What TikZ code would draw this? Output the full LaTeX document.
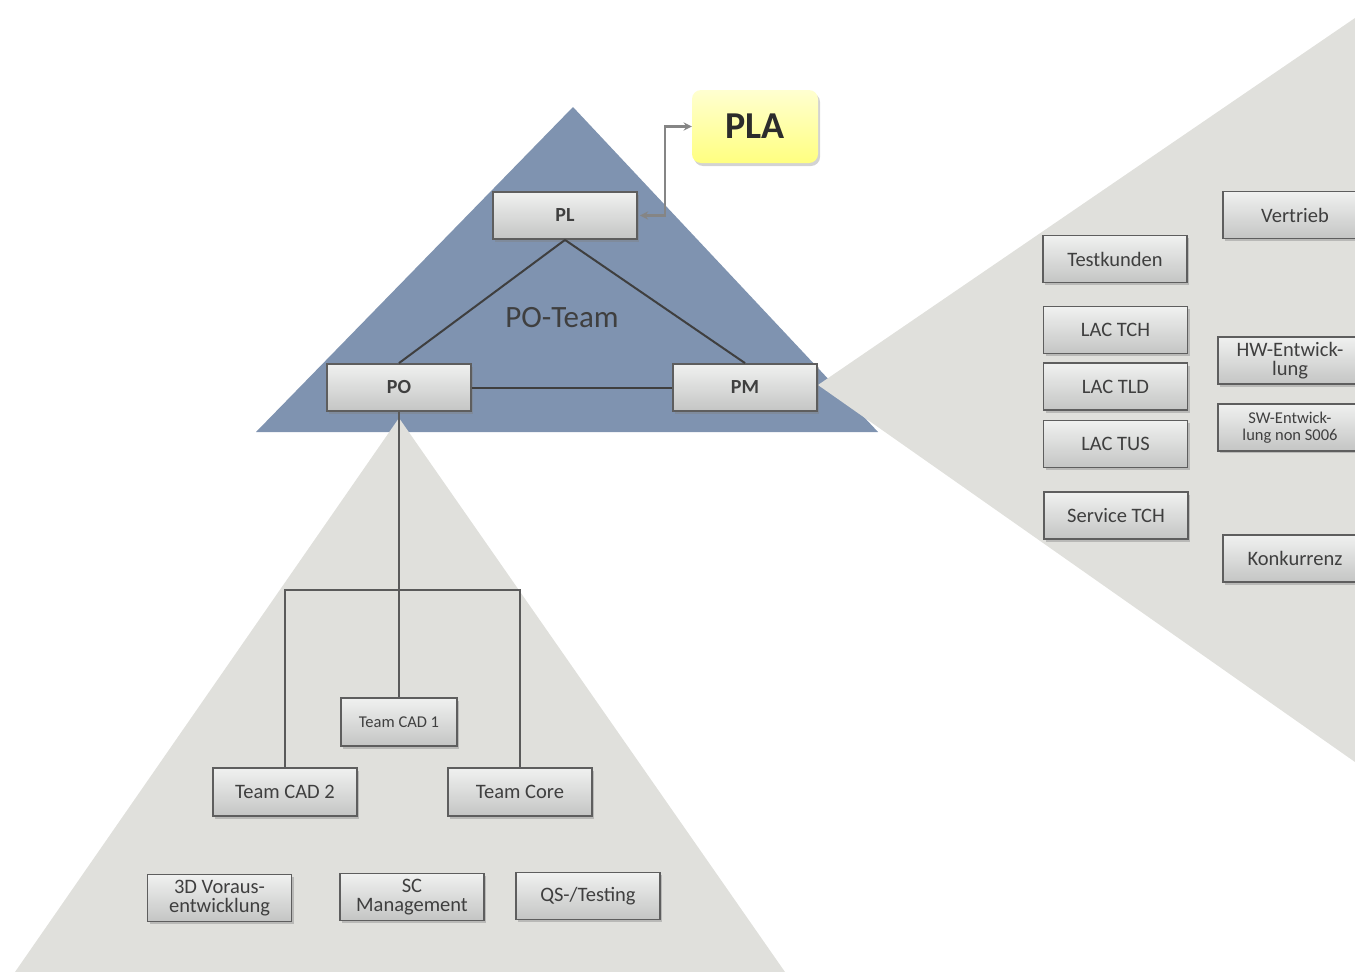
\documentclass[tikz,border=0pt]{standalone}
\usepackage{fontspec}
\setmainfont{Carlito}
\usepackage{tikz}
\usetikzlibrary{arrows,positioning,shadows}
\definecolor{ink}{HTML}{3F3F3F}
\definecolor{edge}{HTML}{5E5E5E}
\definecolor{boxT}{HTML}{F0F1F0}
\definecolor{boxB}{HTML}{C4C5C4}
\definecolor{plaT}{HTML}{FFFFD0}
\definecolor{plaB}{HTML}{FFFF80}
\definecolor{blu}{HTML}{7F93B0}
\definecolor{gryL}{HTML}{E0E0DC}
\definecolor{arr}{HTML}{858585}
\definecolor{wire}{HTML}{5A5A5A}
\tikzset{
  unit/.style  ={draw=edge, line width=1.8pt, top color=boxT, bottom color=boxB,
                 text=ink, align=center, inner sep=0pt, minimum width=144pt,
                 minimum height=47pt, font=\fontsize{20.5}{19}\selectfont,
                 drop shadow={shadow xshift=2pt, shadow yshift=-2.5pt, opacity=.4}},
  lead/.style  ={unit, font=\fontsize{20}{20}\selectfont\bfseries},
  small/.style ={unit, font=\fontsize{16.5}{17}\selectfont},
  board/.style ={rounded corners=9pt, top color=plaT, bottom color=plaB,
                 text=ink!70!black, minimum width=126pt, minimum height=73pt,
                 font=\fontsize{38}{38}\selectfont\bfseries,
                 drop shadow={shadow xshift=2pt, shadow yshift=-3pt, opacity=.35}},
  link/.style  ={draw=ink, line width=2pt},
  tree/.style  ={draw=wire, line width=1.2pt},
  biarrow/.style={<->,>=stealth, line width=2.6pt, draw=arr},
}
\begin{document}
\begin{tikzpicture}[x=1pt,y=-1pt]
  \useasboundingbox (0,0) rectangle (1355,972);
  \clip (0,0) rectangle (1355,972);
  % background areas
  \fill[blu] (573,107) -- (878,432) -- (256,432) -- cycle;
  \fill[gryL] (399,418) -- (785,972) -- (15,972) -- cycle;
  \fill[gryL] (818,385) -- (1355,18) -- (1355,762) -- cycle;
  \node[font=\fontsize{31}{31}\selectfont, text=ink] (poteam) at (562,318) {PO-Team};
  % core team
  \node[lead] (pl) at (565,215.5) {PL};
  \node[lead] (po) at (399,387.5) {PO};
  \node[lead] (pm) at (745,387.5) {PM};
  \node[board] (pla) at (755,126.5) {PLA};
  \draw[link] (pl.south) -- (po.north);
  \draw[link] (pl.south) -- (pm.north);
  \draw[link] (po) -- (pm);
  \draw[biarrow] ([xshift=2pt]pl.east) -- ++(25,0) |- (pla.west);
  % teams below PO
  \node[small, minimum width=116pt, minimum height=48pt] (cad1) at (399,722) {Team CAD 1};
  \node[unit, minimum height=48pt] (cad2) at (285,792) {Team CAD 2};
  \node[unit, minimum height=48pt] (core) at (520,792) {Team Core};
  \coordinate (fork) at (399,590);
  \draw[tree] (po.south) -- (fork) -- (cad1.north);
  \draw[tree] (fork) -| (cad2.north);
  \draw[tree] (fork) -| (core.north);
  \node[unit] (vor) at (219.5,898) {3D Voraus-\\entwicklung};
  \node[unit] (scm) at (412,897) {SC\\Management};
  \node[unit] (qst) at (588,896) {QS-/Testing};
  % partners of PM
  \node[unit] (test) at (1115,259) {Testkunden};
  \node[unit] (tch) at (1115.5,330) {LAC TCH};
  \node[unit, below=8pt of tch] (tld) {LAC TLD};
  \node[unit] (tus) at (1115.5,444) {LAC TUS};
  \node[unit] (svc) at (1116,515.5) {Service TCH};
  \node[unit] (vt) at (1295,215) {Vertrieb};
  \node[unit] (hw) at (1290,360.5) {HW-Entwick-\\lung};
  \node[small, below=18pt of hw] (sw) {SW-Entwick-\\lung non S006};
  \node[unit] (kon) at (1295,558.5) {Konkurrenz};
\end{tikzpicture}
\end{document}
